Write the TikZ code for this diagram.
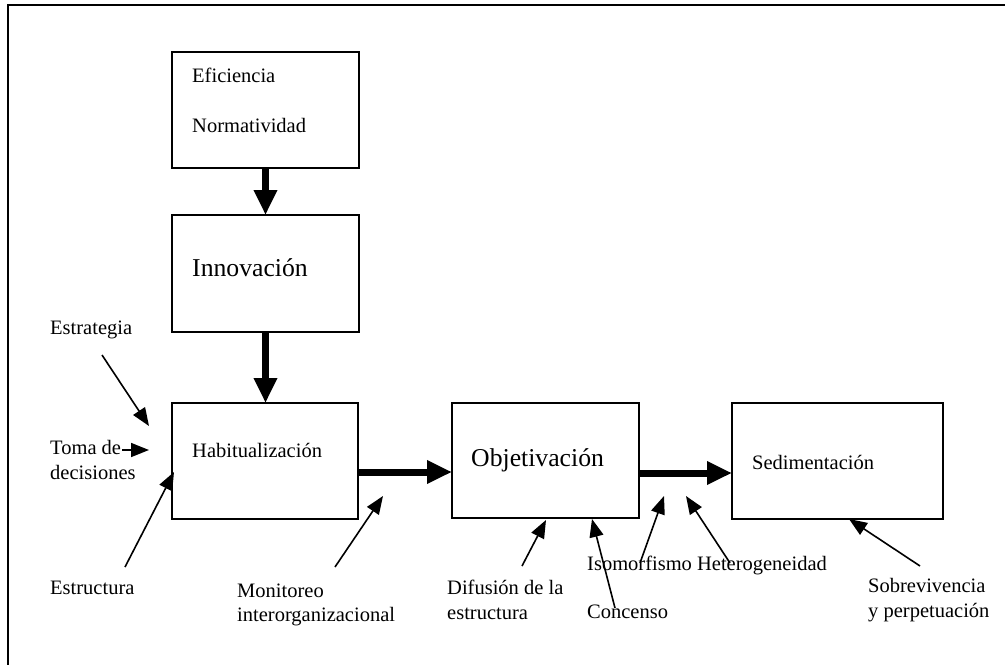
\documentclass[tikz,border=0pt]{standalone}
\usepackage{fontspec}
\setmainfont{Liberation Serif}
\usetikzlibrary{arrows.meta}
\begin{document}
\begin{tikzpicture}[x=1pt,y=-1pt,
  lbl/.style={anchor=west,inner sep=0pt,font=\fontsize{20.5}{24.5}\selectfont},
  biglbl/.style={anchor=west,inner sep=0pt,font=\fontsize{25.7}{30}\selectfont},
  flow/.style={line width=7pt,-{Triangle[length=25pt,width=22pt]}},
  cue/.style={line width=1.6pt,-{Triangle[length=18pt,width=14pt]}}]
\useasboundingbox (0,0) rectangle (1005,665);
% partial frame: top and left edges
\draw[line width=2.5pt] (1005,5) -- (8,5) -- (8,665);

% stage boxes
\draw[line width=2pt] (172,52) rectangle (359,168);
\draw[line width=2pt] (172,215) rectangle (359,332);
\draw[line width=2pt] (172,403) rectangle (358,519);
\draw[line width=2pt] (452,403) rectangle (639,518);
\draw[line width=2pt] (732,403) rectangle (943,519);
\coordinate (effB) at (265.5,168);
\coordinate (innT) at (265.5,215);
\coordinate (innB) at (265.5,332);
\coordinate (habT) at (265.5,403);
\coordinate (habR) at (358,472);
\coordinate (objL) at (452,472);
\coordinate (objR) at (639,473);
\coordinate (sedL) at (732,473);

\node[lbl] (efi) at (192,75) {Eficiencia};
\node[lbl] (nor) at (192,125) {Normatividad};
\node[biglbl] (inn) at (192,268) {Innovación};
\node[lbl] (hab) at (192,450) {Habitualización};
\node[biglbl] (obj) at (471,460) {Objetivación};
\node[lbl] (sed) at (752,462) {Sedimentación};

% main flow
\draw[flow] (effB) -- (innT);
\draw[flow] (innB) -- (habT);
\draw[flow] (habR) -- (objL);
\draw[flow] (objR) -- (sedL);

% influencing factors
\node[lbl] (est) at (50,330) {Estrategia};
\node[lbl,align=left] (tom) at (50,460) {Toma de\\decisiones};
\node[lbl] (estr) at (50,588) {Estructura};
\node[lbl,align=left] (mon) at (237,605) {Monitoreo\\interorganizacional};
\node[lbl,align=left] (dif) at (447,600) {Difusión de la\\estructura};
\node[lbl] (con) at (587,612) {Concenso};
\node[lbl] (iso) at (587,565) {Isomorfismo Heterogeneidad};
\node[lbl,align=left] (sob) at (868,600) {Sobrevivencia\\y perpetuación};

\coordinate (a1s) at (102,355); \coordinate (a1e) at (149,426);
\coordinate (a2s) at (122,450); \coordinate (a2e) at (149,450);
\coordinate (a3s) at (125,567); \coordinate (a3e) at (174,472);
\coordinate (a4s) at (335,567); \coordinate (a4e) at (383,496);
\coordinate (a5s) at (522,566); \coordinate (a5e) at (546,520);
\coordinate (a6s) at (615,608); \coordinate (a6e) at (592,519);
\coordinate (a7s) at (640,563); \coordinate (a7e) at (664,496);
\coordinate (a8s) at (730,563); \coordinate (a8e) at (686,496);
\coordinate (a9s) at (920,566); \coordinate (a9e) at (849,519);
\foreach \i in {1,...,9} \draw[cue] (a\i s) -- (a\i e);
\end{tikzpicture}
\end{document}
